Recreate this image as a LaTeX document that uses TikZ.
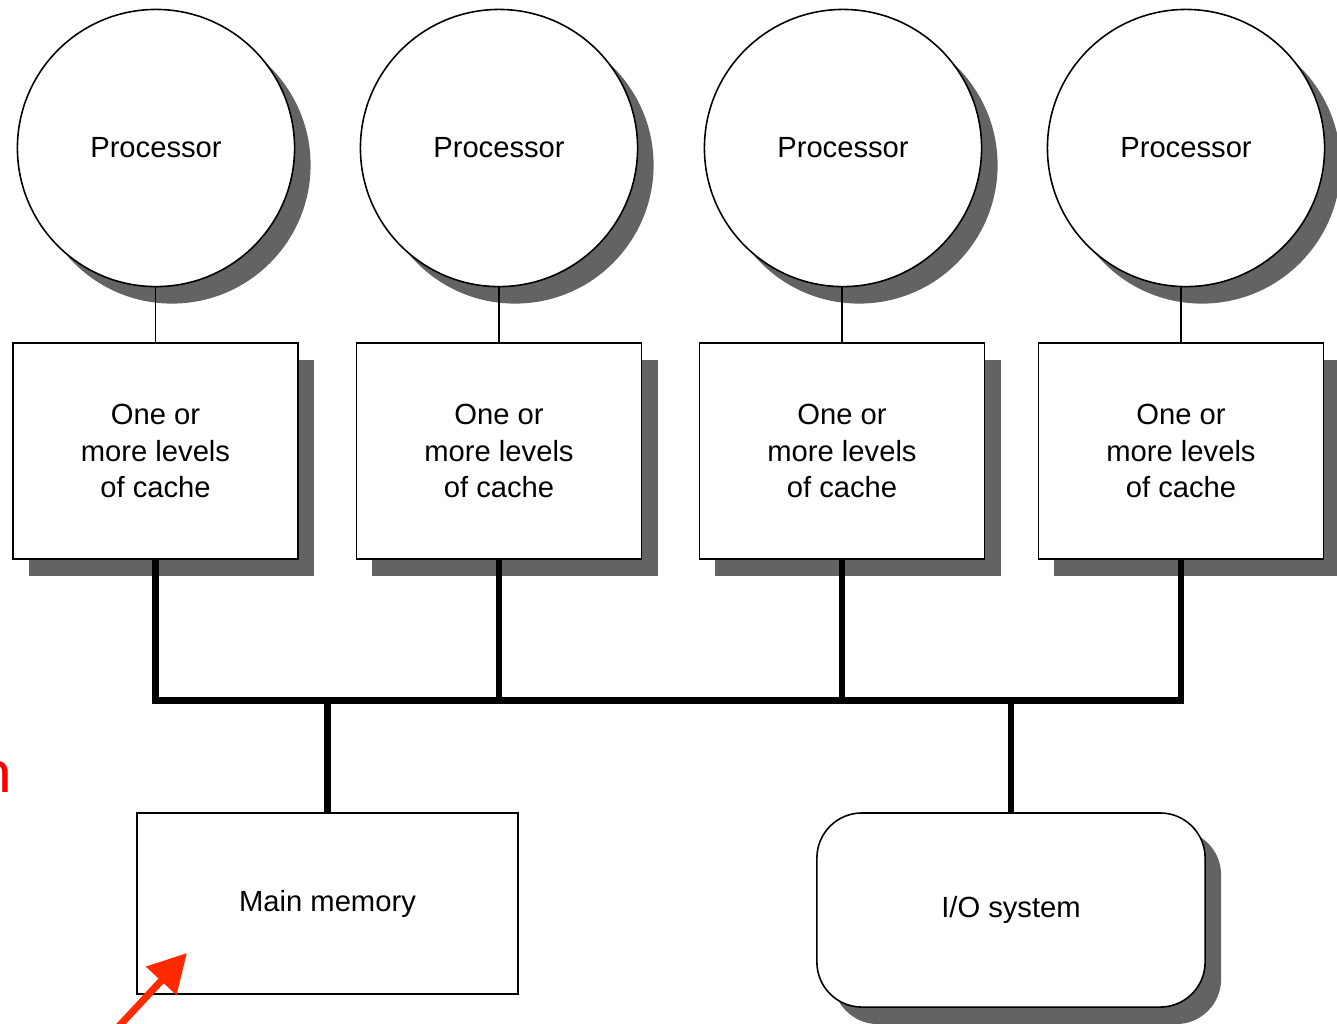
\documentclass[tikz,border=0pt]{standalone}
\usepackage{fontspec}
\setmainfont{Liberation Sans}
\newfontfamily\notefont{Carlito}
\usetikzlibrary{shadows,arrows.meta}
\definecolor{ShadowGray}{HTML}{636363}
\definecolor{NoteRed}{HTML}{FF2A00}
\definecolor{LetterRed}{HTML}{FF0000}

\tikzset{
    boxshadow/.style={drop shadow={shadow xshift=0.16cm, shadow yshift=-0.17cm, fill=ShadowGray, opacity=1}},
    cpu/.style={circle, draw, fill=white, line width=0.45pt, minimum size=2.77cm, inner sep=0pt,
        font=\fontsize{8.3}{10.5}\selectfont, boxshadow},
    cache/.style={rectangle, draw, fill=white, line width=0.45pt, minimum width=2.85cm, minimum height=2.16cm,
        align=center, font=\fontsize{8.3}{10.5}\selectfont, boxshadow},
    memory/.style={rectangle, draw, fill=white, line width=0.45pt, minimum width=3.81cm, minimum height=1.81cm,
        font=\fontsize{8.3}{10.5}\selectfont},
    iosys/.style={rectangle, rounded corners=0.45cm, draw, fill=white, line width=0.45pt, minimum width=3.88cm,
        minimum height=1.94cm, font=\fontsize{8.3}{10.5}\selectfont, boxshadow},
    link/.style={line width=0.4pt},
    bus/.style={line width=1.8pt}
}

\begin{document}
\begin{tikzpicture}[x=0.01cm, y=-0.01cm]
    % canvas 1337 x 1023
    \useasboundingbox (0,0) rectangle (1337,1023);

    % ---------- processors ----------
    \node[cpu] (cpu1) at (156,148) {Processor};
    \node[cpu] (cpu2) at (499,148) {Processor};
    \node[cpu] (cpu3) at (843,148) {Processor};
    \node[cpu] (cpu4) at (1186,148) {Processor};

    % ---------- caches ----------
    \node[cache] (cache1) at (155.5,451) {One or\\more levels\\of cache};
    \node[cache] (cache2) at (499,451) {One or\\more levels\\of cache};
    \node[cache] (cache3) at (842,451) {One or\\more levels\\of cache};
    \node[cache] (cache4) at (1181,451) {One or\\more levels\\of cache};

    % processor to cache
    \draw[link] (cache1.north) -- (cache1.north |- cpu1.south);
    \draw[link] (cache2.north) -- (cache2.north |- cpu2.south);
    \draw[link] (cache3.north) -- (cache3.north |- cpu3.south);
    \draw[link] (cache4.north) -- (cache4.north |- cpu4.south);

    % ---------- memory and I/O ----------
    \node[memory] (mem) at (327.5,903.5) {Main memory};
    \node[iosys] (io) at (1011,910) {I/O system};

    % ---------- bus ----------
    \coordinate (busy) at (0,700.5);
    \draw[bus] (cache1.south) |- (busy -| cache4.south) -- (cache4.south);
    \draw[bus] (cache2.south) -- (cache2.south |- busy);
    \draw[bus] (cache3.south) -- (cache3.south |- busy);
    \draw[bus] (mem.north) -- (mem.north |- busy);
    \draw[bus] (io.north) -- (io.north |- busy);

    % ---------- red annotation ----------
    \node[LetterRed, font=\notefont\fontsize{18.2}{20}\selectfont, anchor=base east, inner sep=0pt] (note) at (12.5,792) {n};
    \coordinate (arrTail) at (108,1038);
    \coordinate (arrTip) at (187,953);
    \draw[NoteRed, line width=2pt, -{Triangle[length=0.38cm, width=0.40cm]}] (arrTail) -- (arrTip);

\end{tikzpicture}
\end{document}
